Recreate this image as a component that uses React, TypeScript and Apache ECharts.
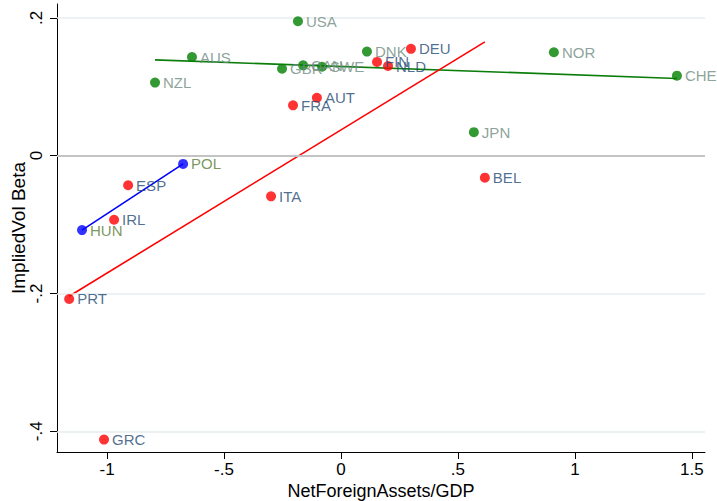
import React, { useEffect, useRef } from "react";
import * as echarts from "echarts";

// Green group (advanced, non-euro)
const greenNames = ["USA", "AUS", "NZL", "DNK", "CAN", "SWE", "GBR", "NOR", "CHE", "JPN"];
const greenX = [-0.184, -0.637, -0.795, 0.111, -0.162, -0.081, -0.252, 0.910, 1.436, 0.568];
const greenY = [0.195, 0.143, 0.106, 0.151, 0.131, 0.129, 0.126, 0.150, 0.116, 0.034];

// Red group (euro area)
const redNames = ["DEU", "FIN", "NLD", "AUT", "FRA", "BEL", "ITA", "ESP", "IRL", "PRT", "GRC"];
const redX = [0.299, 0.154, 0.201, -0.103, -0.205, 0.615, -0.299, -0.910, -0.970, -1.162, -1.013];
const redY = [0.155, 0.136, 0.130, 0.084, 0.073, -0.032, -0.059, -0.043, -0.093, -0.208, -0.412];

// Blue group
const blueNames = ["POL", "HUN"];
const blueX = [-0.675, -1.107];
const blueY = [-0.012, -0.108];

// Fitted lines (endpoints)
const greenFitX = [-0.795, 1.436];
const greenFitY = [0.139, 0.112];
const redFitX = [-1.162, 0.615];
const redFitY = [-0.204, 0.165];
const blueFitX = [-1.107, -0.675];
const blueFitY = [-0.108, -0.012];

const xTicks = [-1, -0.5, 0, 0.5, 1, 1.5];
const yTicks = [-0.4, -0.2, 0, 0.2];

const fmt = (v: number) => {
  if (v === 0) return "0";
  const s = String(Math.round(v * 10) / 10);
  return s.replace(/^(-?)0\./, "$1.");
};

const pts = (xs: number[], ys: number[], names?: string[]) =>
  xs.map((x, i) => (names ? { value: [x, ys[i]], name: names[i] } : [x, ys[i]]));

const FONT = "'Liberation Sans', Arial, Helvetica, sans-serif";

export default function App() {
  const ref = useRef<HTMLDivElement>(null);
  useEffect(() => {
    if (!ref.current) return;
    const chart = echarts.init(ref.current, undefined, { renderer: "svg" });
    const scatter = (names: string[], xs: number[], ys: number[], color: string, labelColor: string) => ({
      type: "scatter",
      data: pts(xs, ys, names),
      symbolSize: 10,
      itemStyle: { color },
      label: {
        show: true,
        position: "right",
        distance: 3,
        formatter: (p: any) => p.name,
        color: labelColor,
        fontSize: 15,
        fontFamily: FONT,
      },
      z: 5,
    });
    const line = (xs: number[], ys: number[], color: string) => ({
      type: "line",
      data: pts(xs, ys),
      symbol: "none",
      lineStyle: { color, width: 1.6 },
      z: 3,
    });
    chart.setOption({
      animation: false,
      backgroundColor: "#ffffff",
      grid: { left: 57, right: 12, top: 4, bottom: 49, outerBoundsMode: "none", containLabel: false },
      xAxis: {
        type: "value",
        min: -1.214,
        max: 1.556,
        name: "NetForeignAssets/GDP",
        nameLocation: "middle",
        nameGap: 30,
        nameMoveOverlap: false,
        nameTextStyle: { fontSize: 18, color: "#000", fontFamily: FONT },
        axisLine: { show: true, onZero: false, lineStyle: { color: "#000", width: 1 } },
        axisTick: { show: true, length: 7, customValues: xTicks, lineStyle: { color: "#000" } },
        axisLabel: {
          customValues: xTicks,
          formatter: (v: number) => fmt(v),
          fontSize: 17,
          color: "#000",
          fontFamily: FONT,
          margin: 9,
        },
        splitLine: { show: false },
      },
      yAxis: {
        type: "value",
        min: -0.43,
        max: 0.22,
        name: "ImpliedVol Beta",
        nameLocation: "middle",
        nameGap: 39,
        nameMoveOverlap: false,
        nameTextStyle: { fontSize: 19, color: "#000", fontFamily: FONT, verticalAlign: "middle", padding: 0 },
        axisLine: { show: true, onZero: false, lineStyle: { color: "#000", width: 1 } },
        axisTick: { show: true, length: 7, customValues: yTicks, lineStyle: { color: "#000" } },
        axisLabel: {
          customValues: yTicks,
          formatter: (v: number) => fmt(v),
          fontSize: 17,
          color: "#000",
          fontFamily: FONT,
          rotate: 90,
          align: "center",
          verticalAlign: "bottom",
          margin: 12,
        },
        splitLine: { show: false },
      },
      series: [
        {
          type: "line",
          data: [],
          markLine: {
            silent: true,
            symbol: "none",
            label: { show: false },
            data: [
              { yAxis: 0.2, lineStyle: { color: "#e6eef0", width: 1.5, type: "solid" } },
              { yAxis: -0.2, lineStyle: { color: "#e6eef0", width: 1.5, type: "solid" } },
              { yAxis: -0.4, lineStyle: { color: "#e6eef0", width: 1.5, type: "solid" } },
              { yAxis: 0, lineStyle: { color: "#c4c4c4", width: 2, type: "solid" } },
            ],
          },
          z: 1,
        },
        line(greenFitX, greenFitY, "#0a7d0a"),
        line(redFitX, redFitY, "#ff0000"),
        line(blueFitX, blueFitY, "#0000ff"),
        scatter(greenNames, greenX, greenY, "#008000", "#6f8a80"),
        scatter(redNames, redX, redY, "#ff0000", "#1f4a73"),
        scatter(blueNames, blueX, blueY, "#0000ff", "#5a7a35"),
      ],
    });
    return () => chart.dispose();
  }, []);
  return (
    <div
      ref={ref}
      style={{ position: "fixed", left: 0, top: 0, width: 717, height: 501 }}
    />
  );
}
